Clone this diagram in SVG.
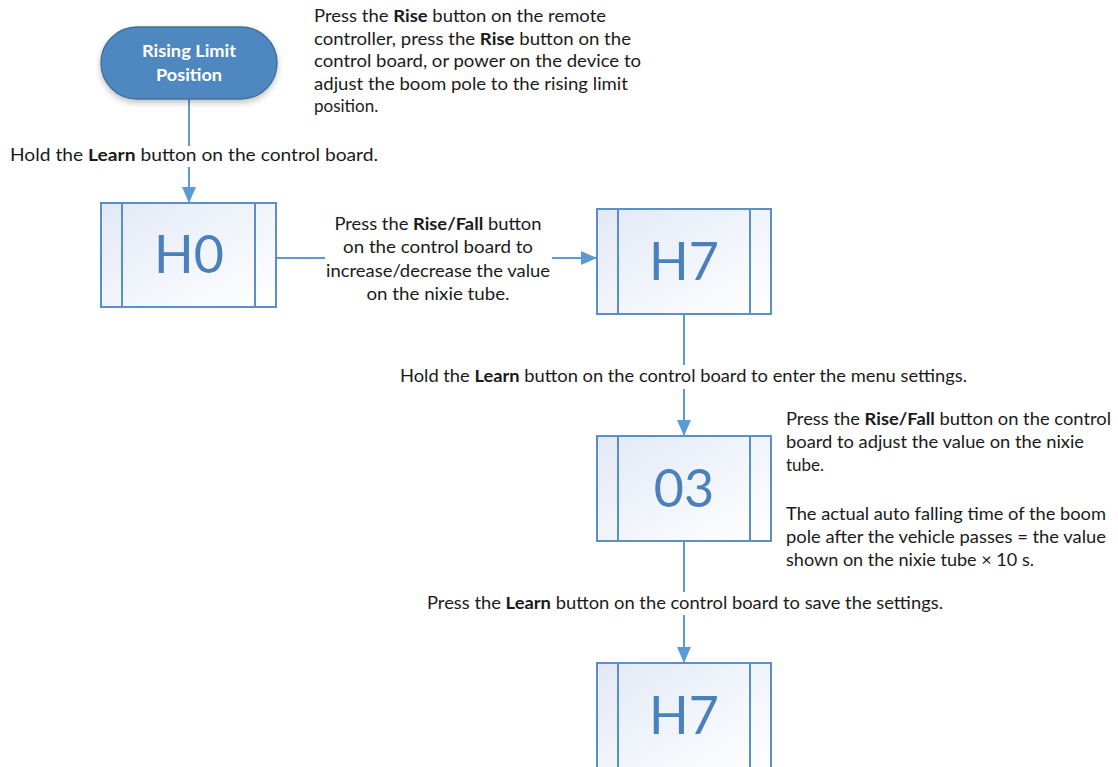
<svg xmlns="http://www.w3.org/2000/svg" width="1118" height="767" viewBox="0 0 1118 767">
<style>
.t{font-family:Lato,"Liberation Sans",sans-serif;font-size:17px;fill:#1a1a1a}
.b{font-weight:bold}
.box{fill:url(#g);stroke:#5b8fc8;stroke-width:2}
.in{stroke:#5b8fc8;stroke-width:2;fill:none}
.big{font-family:Lato,"Liberation Sans",sans-serif;font-size:52px;fill:#4a80bb;text-anchor:middle}
.c{stroke:#5b9bd5;stroke-width:2;fill:none}
.pt{font-family:Lato,"Liberation Sans",sans-serif;font-size:17px;font-weight:bold;fill:#fff;text-anchor:middle}
</style>
<defs>
<linearGradient id="g" x1="0" y1="0" x2="1" y2="1">
<stop offset="0" stop-color="#e2e9f6"/>
<stop offset="1" stop-color="#ffffff"/>
</linearGradient>
<marker id="a" viewBox="0 0 16 14" refX="16" refY="7" markerWidth="16" markerHeight="14" markerUnits="userSpaceOnUse" orient="auto">
<path d="M0,0 L16,7 L0,14 z" fill="#5b9bd5"/>
</marker>
<filter id="sh" x="-20%" y="-20%" width="140%" height="160%">
<feGaussianBlur in="SourceAlpha" stdDeviation="3"/>
<feOffset dy="3"/>
<feComponentTransfer><feFuncA type="linear" slope="0.25"/></feComponentTransfer>
<feMerge><feMergeNode/><feMergeNode in="SourceGraphic"/></feMerge>
</filter>
</defs>

<g id="connectors">
<path class="c" d="M189,99 V146 M189,167 V203" marker-end="url(#a)"/>
<path class="c" d="M276,258 H325 M552,258 H597" marker-end="url(#a)"/>
<path class="c" d="M684,314 V365 M684,389 V436" marker-end="url(#a)"/>
<path class="c" d="M684,541 V592 M684,615 V663" marker-end="url(#a)"/>
</g>

<g id="start">
<rect x="101" y="27" width="176" height="72" rx="36" fill="#4f87c1" stroke="#41719c" stroke-width="1.5" filter="url(#sh)"/>
<text class="pt" x="189" y="57" textLength="94" lengthAdjust="spacingAndGlyphs">Rising Limit</text>
<text class="pt" x="189" y="81" textLength="66" lengthAdjust="spacingAndGlyphs">Position</text>
</g>

<g id="note-top">
<text class="t" x="314" y="22" textLength="292" lengthAdjust="spacingAndGlyphs">Press the <tspan class="b">Rise</tspan> button on the remote</text>
<text class="t" x="314" y="45" textLength="317" lengthAdjust="spacingAndGlyphs">controller, press the <tspan class="b">Rise</tspan> button on the</text>
<text class="t" x="314" y="67" textLength="327" lengthAdjust="spacingAndGlyphs">control board, or power on the device to</text>
<text class="t" x="314" y="90" textLength="314" lengthAdjust="spacingAndGlyphs">adjust the boom pole to the rising limit</text>
<text class="t" x="314" y="112">position.</text>
</g>

<g id="label-hold1">
<text class="t" x="10" y="161" textLength="368" lengthAdjust="spacingAndGlyphs">Hold the <tspan class="b">Learn</tspan> button on the control board.</text>
</g>

<g id="node-h0">
<rect class="box" x="101" y="203" width="175" height="104"/>
<path class="in" d="M122,203 V307 M255,203 V307"/>
<text class="big" x="189" y="273">H0</text>
</g>

<g id="label-risefall">
<text class="t" x="438" y="230" text-anchor="middle" textLength="207" lengthAdjust="spacingAndGlyphs">Press the <tspan class="b">Rise/Fall</tspan> button</text>
<text class="t" x="438" y="253" text-anchor="middle" textLength="190" lengthAdjust="spacingAndGlyphs">on the control board to</text>
<text class="t" x="438" y="277" text-anchor="middle" textLength="224" lengthAdjust="spacingAndGlyphs">increase/decrease the value</text>
<text class="t" x="438" y="300" text-anchor="middle" textLength="143" lengthAdjust="spacingAndGlyphs">on the nixie tube.</text>
</g>

<g id="node-h7a">
<rect class="box" x="597" y="209" width="174" height="105"/>
<path class="in" d="M618,209 V314 M750,209 V314"/>
<text class="big" x="684" y="280">H7</text>
</g>

<g id="label-hold2">
<text class="t" x="400" y="382" textLength="567" lengthAdjust="spacingAndGlyphs">Hold the <tspan class="b">Learn</tspan> button on the control board to enter the menu settings.</text>
</g>

<g id="node-03">
<rect class="box" x="597" y="436" width="174" height="105"/>
<path class="in" d="M618,436 V541 M750,436 V541"/>
<text class="big" x="684" y="507">03</text>
</g>

<g id="note-right">
<text class="t" x="786" y="425" textLength="325" lengthAdjust="spacingAndGlyphs">Press the <tspan class="b">Rise/Fall</tspan> button on the control</text>
<text class="t" x="786" y="448" textLength="298" lengthAdjust="spacingAndGlyphs">board to adjust the value on the nixie</text>
<text class="t" x="786" y="471">tube.</text>
<text class="t" x="786" y="520" textLength="320" lengthAdjust="spacingAndGlyphs">The actual auto falling time of the boom</text>
<text class="t" x="786" y="543" textLength="320" lengthAdjust="spacingAndGlyphs">pole after the vehicle passes = the value</text>
<text class="t" x="786" y="566" textLength="248" lengthAdjust="spacingAndGlyphs">shown on the nixie tube × 10 s.</text>
</g>

<g id="label-save">
<text class="t" x="427" y="609" textLength="516" lengthAdjust="spacingAndGlyphs">Press the <tspan class="b">Learn</tspan> button on the control board to save the settings.</text>
</g>

<g id="node-h7b">
<rect class="box" x="597" y="663" width="174" height="110"/>
<path class="in" d="M618,663 V773 M750,663 V773"/>
<text class="big" x="684" y="734">H7</text>
</g>
</svg>
